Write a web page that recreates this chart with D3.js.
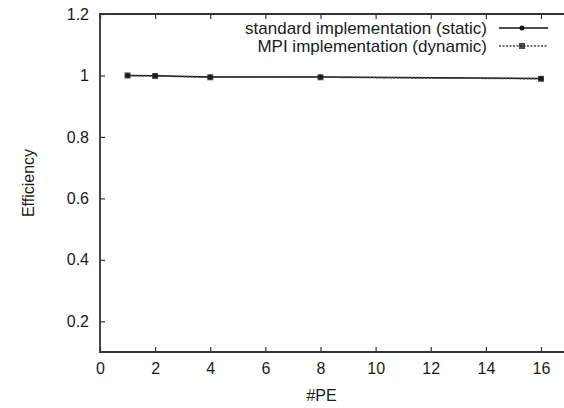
<!DOCTYPE html>
<html>
<head>
<meta charset="utf-8">
<script src="https://cdn.jsdelivr.net/npm/d3@7"></script>
<style>
  body { margin: 0; background: #fff; }
  text { font-family: "Liberation Sans", Arial, sans-serif; fill: #1a1a1a; }
</style>
</head>
<body>
<div id="chart"></div>
<script>
const WIDTH = 564;
const HEIGHT = 408;

const pes = [1, 2, 4, 8, 16]; // x values
const staticEff = [1.0, 0.999, 0.995, 0.995, 0.99];
const dynamicEff = [1.0, 0.998, 0.994, 0.994, 0.989];
const seriesNames = ["standard implementation (static)", "MPI implementation (dynamic)"];
const xTicks = [0, 2, 4, 6, 8, 10, 12, 14, 16];
const yTicks = [0.2, 0.4, 0.6, 0.8, 1, 1.2];

const margin = {left: 100, top: 14, bottom: 56};
const FONT = "16px";

var x = d3.scaleLinear().domain([0, 16]).range([margin.left, 541]);
var y = d3.scaleLinear().domain([0.1, 1.2]).range([HEIGHT - margin.bottom, margin.top]);

var svg = d3.select("#chart").append("svg")
  .attr("width", WIDTH)
  .attr("height", HEIGHT);

// axes (gnuplot style, ticks inward and mirrored)
svg.append("g")
  .attr("transform", "translate(0," + y(0.1) + ")")
  .call(d3.axisBottom(x).tickValues(xTicks).tickSize(-5).tickPadding(11).tickFormat(d3.format("d")))
  .call(g => g.select(".domain").remove())
  .selectAll("text").style("font-size", FONT);

svg.append("g")
  .attr("transform", "translate(0," + y(1.2) + ")")
  .call(d3.axisTop(x).tickValues(xTicks).tickSize(-5).tickFormat(""))
  .call(g => g.select(".domain").remove());

svg.append("g")
  .attr("transform", "translate(" + margin.left + ",0)")
  .call(d3.axisLeft(y).tickValues(yTicks).tickSize(-5).tickPadding(11).tickFormat(d => d == 1 ? "1" : d3.format(".1f")(d)))
  .call(g => g.select(".domain").remove())
  .selectAll("text").style("font-size", FONT);

svg.selectAll(".tick line").attr("stroke", "#333").attr("stroke-width", 1.2);

// frame (right edge is cropped off in the original)
svg.append("path")
  .attr("d", "M" + WIDTH + "," + y(1.2) + "H" + x(0) + "V" + y(0.1) + "H" + WIDTH)
  .attr("fill", "none")
  .attr("stroke", "#333")
  .attr("stroke-width", 1.8);

var line = d3.line().x(d => x(d[0])).y(d => y(d[1]));

var staticPts = pes.map((p, i) => [p, staticEff[i]]);
var dynamicPts = pes.map((p, i) => [p, dynamicEff[i]]);

svg.append("path")
  .datum(staticPts)
  .attr("d", line)
  .attr("fill", "none")
  .attr("stroke", "#111")
  .attr("stroke-width", 1.4);

svg.append("path")
  .datum(dynamicPts)
  .attr("d", line)
  .attr("fill", "none")
  .attr("stroke", "#444")
  .attr("stroke-width", 1.4)
  .attr("stroke-dasharray", "2,1.5");

svg.selectAll(".pt-s")
  .data(staticPts)
  .join("circle")
  .attr("cx", d => x(d[0]))
  .attr("cy", d => y(d[1]))
  .attr("r", 2.5)
  .attr("fill", "#111");

svg.selectAll(".pt-d")
  .data(dynamicPts)
  .join("rect")
  .attr("x", d => x(d[0]) - 3)
  .attr("y", d => y(d[1]) - 3)
  .attr("width", 6)
  .attr("height", 6)
  .attr("fill", "#222")
  .attr("opacity", 0.8);

// legend
var legend = svg.append("g");
var legendY = [28, 46];
seriesNames.forEach((name, i) => {
  legend.append("text")
    .attr("x", 487)
    .attr("y", legendY[i])
    .attr("dy", "0.35em")
    .attr("text-anchor", "end")
    .style("font-size", "17px")
    .text(name);
  legend.append("line")
    .attr("x1", 499).attr("x2", 548)
    .attr("y1", legendY[i]).attr("y2", legendY[i])
    .attr("stroke", i == 0 ? "#111" : "#444")
    .attr("stroke-width", 1.4)
    .attr("stroke-dasharray", i == 0 ? null : "2,1.5");
  if (i == 0) {
    legend.append("circle").attr("cx", 522).attr("cy", legendY[i]).attr("r", 2.5).attr("fill", "#111");
  } else {
    legend.append("rect").attr("x", 519).attr("y", legendY[i] - 3).attr("width", 6).attr("height", 6)
      .attr("fill", "#222").attr("opacity", 0.8);
  }
});

// axis titles
svg.append("text")
  .attr("x", (x(0) + x(16)) / 2 + 1)
  .attr("y", 401)
  .attr("text-anchor", "middle")
  .style("font-size", FONT)
  .text("#PE");

svg.append("text")
  .attr("transform", "translate(34," + ((y(0.1) + y(1.2)) / 2) + ") rotate(-90)")
  .attr("text-anchor", "middle")
  .style("font-size", FONT)
  .text("Efficiency");
</script>
</body>
</html>
